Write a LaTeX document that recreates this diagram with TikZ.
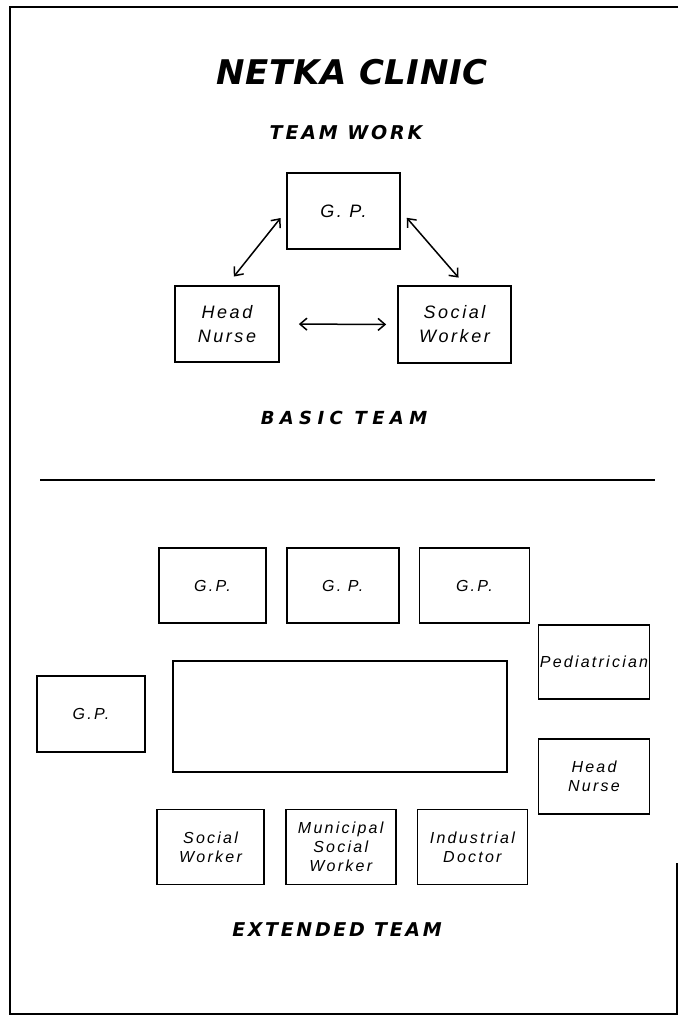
\documentclass[tikz,border=0pt]{standalone}
\usepackage{fontspec}
\usetikzlibrary{positioning,arrows.meta}
\newfontfamily\headfont{DejaVu Sans}
\newfontfamily\handfont[LetterSpace=14]{Liberation Sans}

\begin{document}
\begin{tikzpicture}[x=1pt,y=-1pt]
\tikzstyle{sqr}=[rectangle, draw=black, line width=1.7pt, inner sep=0pt, align=center]
\tikzstyle{basic}=[sqr, minimum width=111pt, minimum height=76pt, font=\handfont\itshape\fontsize{18}{24}\selectfont]
\tikzstyle{ext}=[sqr, minimum width=108pt, minimum height=75pt, font=\handfont\itshape\fontsize{16}{19}\selectfont]
\tikzstyle{title}=[inner sep=0pt, font=\headfont\bfseries\itshape]
\tikzstyle{connect}=[{Straight Barb[length=7pt,width=12pt]}-{Straight Barb[length=7pt,width=12pt]}, line width=1.5pt]
\fill[white] (0,0) rectangle (678,1017);
% 1. Frame
%%%%%%%%%%
\draw[line width=1.5pt] (678,7) -- (10,7) -- (10,1014) -- (677,1014) -- (677,863);
\draw[line width=2.4pt] (40,480) -- (655,480);

% 2. Headings
%%%%%%%%%%
\node[title] (clinic) at (352,72) {\fontsize{34}{38}\selectfont\addfontfeature{LetterSpace=2}NETKA CLINIC};
\node[title] (teamwork) at (346,133) {\fontsize{19}{22}\selectfont\addfontfeature{LetterSpace=15}TEAM WORK};
\node[title] (basicteam) at (344,418) {\fontsize{18}{22}\selectfont\addfontfeature{LetterSpace=30}BASIC TEAM};
\node[title] (extteam) at (337,930) {\fontsize{19}{22}\selectfont\addfontfeature{LetterSpace=14}EXTENDED TEAM};

% 3. Basic team
%%%%%%%%%%
\node[basic, minimum width=113pt] (gp) at (343.5,211) {G. P.};
\node[basic, minimum width=104pt] (hn) at (227,324) {Head\\Nurse};
\node[basic, minimum width=113pt, minimum height=77pt] (sw) at (454.5,324.5) {Social\\Worker};

\draw[connect, shorten <=11pt, shorten >=9pt] (hn.north) -- (gp.west);
\draw[connect, shorten <=9pt, shorten >=10pt] (gp.east) -- (sw.75);
\draw[connect, shorten <=19pt, shorten >=11pt] (hn.east) -- (sw.west);

% 4. Extended team
%%%%%%%%%%
\node[ext, minimum width=107pt] (gpa) at (212.5,585.5) {G.P.};
\node[ext, minimum width=112pt] (gpb) [right=19pt of gpa] {G. P.};
\node[ext, minimum width=110pt] (gpc) [right=19pt of gpb] {G.P.};
\node[ext, minimum width=111pt, minimum height=74pt] (ped) at (594,662) {Pediatrician};
\node[ext, minimum width=111pt] (hnx) [below=38pt of ped] {Head\\Nurse};
\node[sqr, minimum width=334pt, minimum height=111pt] (table) at (340,716.5) {};
\node[ext, minimum height=76pt] (gpd) at (91,714) {G.P.};
\node[ext, minimum width=107pt] (swx) at (210.5,847) {Social\\Worker};
\node[ext, minimum width=110pt] (msw) [right=20pt of swx] {Municipal\\Social\\Worker};
\node[ext, minimum width=110pt] (ind) [right=20pt of msw] {Industrial\\Doctor};

\end{tikzpicture}
\end{document}
